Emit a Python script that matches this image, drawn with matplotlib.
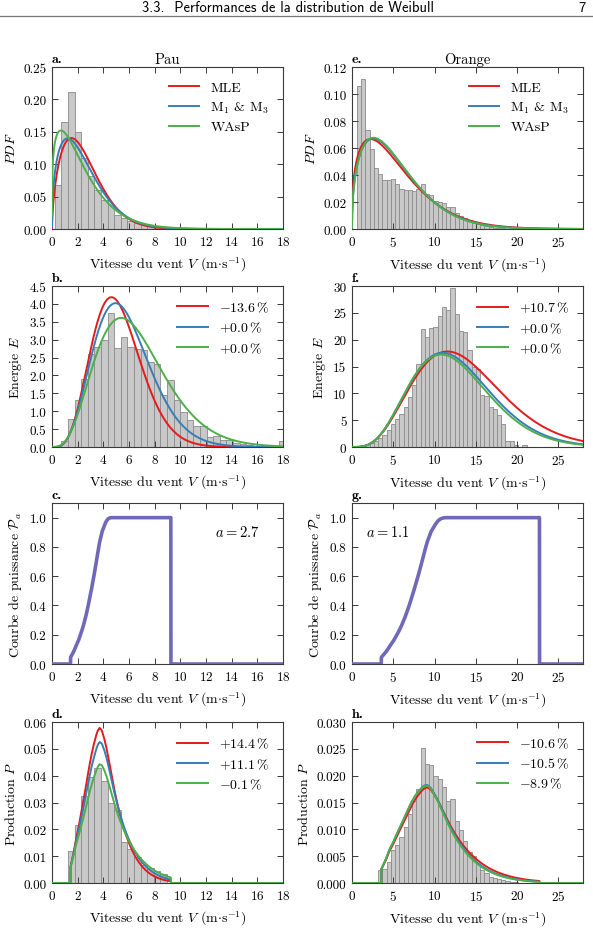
import numpy as np
import matplotlib
matplotlib.use("Agg")
import matplotlib.pyplot as plt
from matplotlib.ticker import FormatStrFormatter, MultipleLocator
from matplotlib.lines import Line2D

# ---------------- data ----------------
methods = ["MLE", r"M$_1$ & M$_3$", "WAsP"]
method_colors = ["#e41a1c", "#377eb8", "#4daf4a"]

# histogram bins (1 knot wide, in m/s)
bin_width = 0.5144
pau_bin_start = 0.22
orange_bin_start = 0.60

pau_pdf_hist = [0.068, 0.165, 0.211, 0.150, 0.110, 0.082, 0.060, 0.044, 0.037, 0.021,
                0.017, 0.012, 0.0094, 0.0074, 0.0052, 0.0043, 0.0022, 0.0024, 0.0014,
                0.0009, 0.0006, 0.0004, 0.0003, 0.0002, 0.0001]
pau_energy_hist = [0.02, 0.17, 0.77, 1.3, 1.9, 2.6, 2.8, 2.98, 3.75, 2.77, 3.07, 2.8,
                   2.75, 2.72, 2.37, 2.33, 1.44, 1.86, 1.3, 0.98, 0.75, 0.6, 0.58, 0.28,
                   0.3, 0.19, 0.19, 0.1, 0.08, 0.05, 0.03, 0.02, 0.0, 0.0, 0.17]
pau_prod_hist = [0.0, 0.0, 0.0118, 0.0218, 0.0325, 0.0395, 0.0430, 0.0381, 0.0298,
                 0.0272, 0.0152, 0.0127, 0.0097, 0.0068, 0.0055, 0.0045, 0.0035]

orange_pdf_hist = [0.106, 0.111, 0.073, 0.059, 0.045, 0.041, 0.036, 0.036, 0.037, 0.033,
                   0.030, 0.029, 0.029, 0.028, 0.030, 0.033, 0.026, 0.025, 0.021, 0.020,
                   0.019, 0.016, 0.016, 0.012, 0.010, 0.008, 0.007, 0.005, 0.004, 0.003,
                   0.002, 0.0015, 0.001, 0.0008, 0.0005, 0.0003]
orange_energy_hist = [0.07, 0.3, 0.5, 0.8, 1.1, 1.6, 2.2, 3.1, 4.2, 5.2, 6.2, 7.5, 9.3,
                      11.5, 15.5, 21.9, 20.5, 22.2, 22.4, 24.4, 26.1, 25.6, 29.7, 24.8,
                      21.6, 21.4, 18.1, 15.0, 14.6, 9.6, 9.5, 7.5, 7.1, 5.9, 4.3, 1.2,
                      1.2, 0.3, 0.0, 0.4]
orange_prod_hist = [0.0, 0.0, 0.0, 0.0, 0.0, 0.0024, 0.0027, 0.0040, 0.0061, 0.0070,
                    0.0085, 0.0104, 0.0129, 0.0153, 0.0175, 0.0251, 0.0221, 0.0220,
                    0.0200, 0.0194, 0.0178, 0.0153, 0.0157, 0.0116, 0.0098, 0.0079,
                    0.0058, 0.0051, 0.0036, 0.0024, 0.0019, 0.0011, 0.0009, 0.0008,
                    0.0005, 0.0003, 0.0002, 0.0001]

# Weibull fits (shape k, scale c) for MLE, M1&M3, WAsP
pau_k = [1.60, 1.45, 1.25]
pau_c = [2.79, 2.72, 2.51]
orange_k = [1.36, 1.43, 1.44]
orange_c = [5.95, 5.95, 5.90]
# curve scale factors: [pdf, energy, production]
pau_scales = [0.5144, 0.5144, 0.494]
orange_scales = [0.54, 0.468, 0.478]

pau_energy_labels = [r"$-13.6\,\%$", r"$+0.0\,\%$", r"$+0.0\,\%$"]
pau_prod_labels = [r"$+14.4\,\%$", r"$+11.1\,\%$", r"$-0.1\,\%$"]
orange_energy_labels = [r"$+10.7\,\%$", r"$+0.0\,\%$", r"$+0.0\,\%$"]
orange_prod_labels = [r"$-10.6\,\%$", r"$-10.5\,\%$", r"$-8.9\,\%$"]

# reference power curve (speed m/s, normalised power), scaled by factor a
power_ref_speed = [3.9, 4.5, 5.0, 5.5, 6.0, 6.5, 7.0, 7.5, 8.0, 8.5, 9.0, 9.5, 10.0,
                   10.5, 11.0, 11.4, 11.8, 12.2, 12.5, 25.0]
power_ref_value = [0.045, 0.08, 0.12, 0.155, 0.20, 0.25, 0.31, 0.38, 0.46, 0.545, 0.635,
                   0.735, 0.83, 0.90, 0.945, 0.975, 0.992, 0.999, 1.0, 1.0]
site_names = ["Pau", "Orange"]
site_a = [2.7, 1.1]

# ---------------- style ----------------
plt.rcParams.update({
    "font.family": ["cmr10", "DejaVu Serif"],
    "mathtext.fontset": "cm",
    "axes.unicode_minus": False,
    "axes.formatter.use_mathtext": True,
    "font.size": 9.5,
    "xtick.direction": "in",
    "ytick.direction": "in",
    "xtick.top": True,
    "ytick.right": True,
    "xtick.major.size": 4,
    "ytick.major.size": 4,
    "xtick.major.width": 0.7,
    "ytick.major.width": 0.7,
    "axes.linewidth": 0.8,
    "axes.edgecolor": "#3a3a3a",
    "xtick.color": "#3a3a3a",
    "ytick.color": "#3a3a3a",
    "xtick.labelcolor": "black",
    "ytick.labelcolor": "black",
})

W, H = 593, 945
fig = plt.figure(figsize=(W / 100, H / 100), dpi=100)

col_left = [52, 352]
ax_w = 231
rows = [(68, 230), (287, 448), (504, 665), (723, 884)]


def make_ax(col, row):
    top, bot = rows[row]
    return fig.add_axes([col_left[col] / W, 1 - bot / H, ax_w / W, (bot - top) / H])


def weibull(v, k, c):
    return (k / c) * (v / c) ** (k - 1) * np.exp(-(v / c) ** k)


def power_curve(v, a):
    u = v * a
    p = np.interp(u, power_ref_speed, power_ref_value)
    p[(u < power_ref_speed[0]) | (u > power_ref_speed[-1])] = 0.0
    return p


xlabel = r"Vitesse du vent $V$ (m$\cdot$s$^{-1}$)"
hist_kw = dict(color="#c8c8c8", edgecolor="#8a8a8a", linewidth=0.6, align="edge")
leg_kw = dict(loc="upper right", frameon=False, handlelength=2.2, handletextpad=0.8,
              labelspacing=0.42, borderaxespad=0.6, fontsize=10)

sites = [
    dict(start=pau_bin_start, pdf=pau_pdf_hist, en=pau_energy_hist, prod=pau_prod_hist,
         k=pau_k, c=pau_c, sc=pau_scales, enl=pau_energy_labels, prl=pau_prod_labels,
         xmax=18, xstep=2, letters="abcd",
         ylims=[(0, 0.25, 0.05, "%.2f"), (0, 4.5, 0.5, "%.1f"), (0, 1.1, 0.2, "%.1f"),
                (0, 0.06, 0.01, "%.2f")]),
    dict(start=orange_bin_start, pdf=orange_pdf_hist, en=orange_energy_hist,
         prod=orange_prod_hist, k=orange_k, c=orange_c, sc=orange_scales,
         enl=orange_energy_labels, prl=orange_prod_labels,
         xmax=28, xstep=5, letters="efgh",
         ylims=[(0, 0.12, 0.02, "%.2f"), (0, 30, 5, "%d"), (0, 1.1, 0.2, "%.1f"),
                (0, 0.03, 0.005, "%.3f")]),
]
ylabels = [r"$PDF$", r"Energie $E$", r"Courbe de puissance $\mathcal{P}_a$",
           r"Production $P$"]

for col, s in enumerate(sites):
    v = np.linspace(1e-4, s["xmax"], 4000)
    a = site_a[col]
    pa = power_curve(v, a)
    axes = [make_ax(col, r) for r in range(4)]
    hists = [s["pdf"], s["en"], None, s["prod"]]
    for r, ax in enumerate(axes):
        h = hists[r]
        if h is not None:
            edges = s["start"] + bin_width * np.arange(len(h))
            ax.bar(edges, h, width=bin_width, **hist_kw, zorder=1)
        if r in (0, 1, 3):
            labs = [methods, s["enl"], None, s["prl"]][r]
            for m in range(3):
                f = weibull(v, s["k"][m], s["c"][m])
                if r == 0:
                    y = s["sc"][0] * f
                elif r == 1:
                    y = s["sc"][1] * v ** 3 * f
                else:
                    y = s["sc"][2] * f * pa
                ax.plot(v, y, color=method_colors[m], lw=1.4, label=labs[m], zorder=3)
            ax.legend(**leg_kw)
        else:
            ax.plot(v, pa, color="#7068b8", lw=2.6, solid_joinstyle="round", zorder=3)
            tx = 0.80 if col == 0 else 0.155
            ax.text(tx, 0.82, r"$a = %.1f$" % a, transform=ax.transAxes,
                    ha="center", va="center", fontsize=10.5)
        lo, hi, step, fmt = s["ylims"][r]
        ax.set_ylim(lo, hi)
        ax.yaxis.set_major_locator(MultipleLocator(step))
        ax.yaxis.set_major_formatter(FormatStrFormatter(fmt))
        ax.set_xlim(0, s["xmax"])
        ax.xaxis.set_major_locator(MultipleLocator(s["xstep"]))
        ax.set_xlabel(xlabel, fontsize=10, labelpad=5)
        ax.set_ylabel(ylabels[r], fontsize=10, labelpad=4)
        ax.tick_params(labelsize=9.5, pad=4)
        ax.text(0.0, 1.01, s["letters"][r] + ".", transform=ax.transAxes,
                ha="left", va="bottom", fontfamily="cmb10", fontsize=10)
    axes[0].set_title(site_names[col], fontsize=10.5, pad=3)

# page header
fig.text(0.485, 1 - 8 / H, "3.3.  Performances de la distribution de Weibull",
         fontfamily="cmss10", fontsize=10.5, ha="center", va="center")
fig.text(0.987, 1 - 8 / H, "7", fontfamily="cmss10", fontsize=10.5, ha="right",
         va="center")
fig.add_artist(Line2D([0, 1], [1 - 17 / H, 1 - 17 / H], color="#777777", lw=0.9))

fig.savefig("out.png", dpi=100)
